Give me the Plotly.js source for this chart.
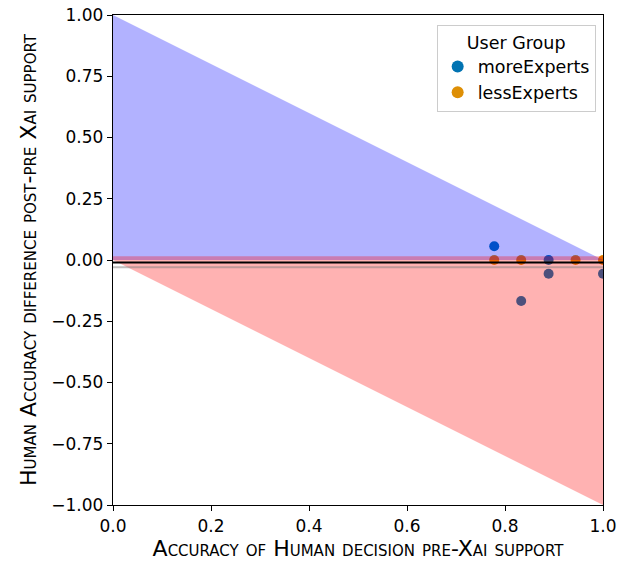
<!DOCTYPE html>
<html>
<head>
<meta charset="utf-8">
<script src="https://cdn.plot.ly/plotly-3.0.1.min.js"></script>
<style>html,body{margin:0;padding:0;background:#fff;}#chart{width:619px;height:564px;}</style>
</head>
<body>
<div id="chart"></div>
<script>
// Data
const moreExpertsX = [0.778, 0.889, 0.889, 0.833, 1.0];
const moreExpertsY = [0.056, 0.0, -0.056, -0.167, -0.056];
const lessExpertsX = [0.778, 0.833, 0.944, 1.0];
const lessExpertsY = [0.0, 0.0, 0.0, 0.0];

// Reference regions / lines
const regionX = [0, 1];
const upperBound = [1, 0];      // y = 1 - x
const lowerBound = [0, -1];     // y = -x
const blueBase = [0, 0];
const redBase = [0.015, 0.015];
const meanLineY = -0.01;
const grayLineY = -0.03;

const xTicks = [0, 0.2, 0.4, 0.6, 0.8, 1.0];
const xTickText = ['0.0', '0.2', '0.4', '0.6', '0.8', '1.0'];
const yTicks = [-1, -0.75, -0.5, -0.25, 0, 0.25, 0.5, 0.75, 1];
const yTickText = ['\u22121.00', '\u22120.75', '\u22120.50', '\u22120.25', '0.00', '0.25', '0.50', '0.75', '1.00'];

const traces = [
  {x: moreExpertsX, y: moreExpertsY, type: 'scatter', mode: 'markers', name: 'moreExperts',
   marker: {color: '#0173b2', size: 10}},
  {x: lessExpertsX, y: lessExpertsY, type: 'scatter', mode: 'markers', name: 'lessExperts',
   marker: {color: '#de8f05', size: 10}},
  // blue region
  {x: regionX, y: blueBase, type: 'scatter', mode: 'lines', line: {width: 0}, showlegend: false, hoverinfo: 'skip'},
  {x: regionX, y: upperBound, type: 'scatter', mode: 'lines', line: {width: 0}, fill: 'tonexty',
   fillcolor: 'rgba(0,0,255,0.3)', showlegend: false, hoverinfo: 'skip'},
  // red region
  {x: regionX, y: redBase, type: 'scatter', mode: 'lines', line: {width: 0}, showlegend: false, hoverinfo: 'skip'},
  {x: regionX, y: lowerBound, type: 'scatter', mode: 'lines', line: {width: 0}, fill: 'tonexty',
   fillcolor: 'rgba(255,0,0,0.3)', showlegend: false, hoverinfo: 'skip'},
  // horizontal lines
  {x: regionX, y: [grayLineY, grayLineY], type: 'scatter', mode: 'lines', line: {color: 'rgba(128,128,128,0.5)', width: 2},
   showlegend: false, hoverinfo: 'skip'},
  {x: regionX, y: [meanLineY, meanLineY], type: 'scatter', mode: 'lines', line: {color: '#000', width: 2},
   showlegend: false, hoverinfo: 'skip'}
];

const fontFam = 'DejaVu Sans, sans-serif';
const layout = {
  width: 619, height: 564,
  margin: {l: 113, r: 16, t: 15, b: 59},
  paper_bgcolor: '#fff', plot_bgcolor: '#fff',
  font: {family: fontFam, color: '#000', size: 16},
  showlegend: true,
  legend: {
    x: 0.985, y: 0.98, xanchor: 'right', yanchor: 'top',
    traceorder: 'normal',
    bgcolor: 'rgba(255,255,255,0.85)', bordercolor: '#cccccc', borderwidth: 1,
    font: {family: fontFam, size: 17.5},
    title: {text: 'User Group', side: 'top center', font: {family: fontFam, size: 17.5}},
    itemsizing: 'constant', tracegroupgap: 0
  },
  xaxis: {
    range: [0, 1], tickvals: xTicks, ticktext: xTickText,
    showgrid: false, zeroline: false, showline: true, linecolor: '#000', linewidth: 1.2, mirror: true,
    ticks: 'outside', ticklen: 5, tickcolor: '#000',
    tickfont: {size: 17},
    title: {text: 'Accuracy of Human decision pre-Xai support', font: {size: 22, variant: 'small-caps'}, standoff: 4}
  },
  yaxis: {
    range: [-1, 1], tickvals: yTicks, ticktext: yTickText,
    showgrid: false, zeroline: false, showline: true, linecolor: '#000', linewidth: 1.2, mirror: true,
    ticks: 'outside', ticklen: 5, tickcolor: '#000',
    tickfont: {size: 17},
    title: {text: 'Human Accuracy difference post-pre Xai support', font: {size: 22, variant: 'small-caps'}, standoff: 8}
  }
};

Plotly.newPlot('chart', traces, layout, {displayModeBar: false, staticPlot: true});
</script>
</body>
</html>
